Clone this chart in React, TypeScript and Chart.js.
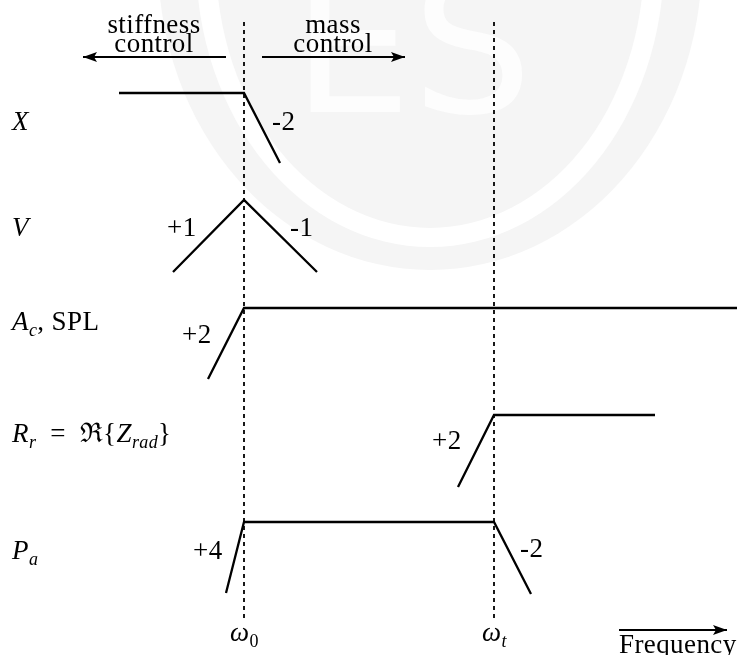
import React, { useEffect, useRef } from "react";
import { Chart, registerables } from "chart.js";

Chart.register(...registerables);

// Frequency axis: decades relative to the resonance ω0 (ω0 = 0, ωt = 2).
// Level axis: log magnitude (decades), each response drawn at its own offset.
const FREQ_MIN = -1.952;
const FREQ_MAX = 3.944;
const LEVEL_MIN = 0;
const LEVEL_MAX = 5.24;

const OMEGA_0 = 0;
const OMEGA_T = 2;
const MARKER_LEVELS = [0.296, 5.08];

const X_FREQ = [-1.0, 0, 0.288];
const X_LEVEL = [4.496, 4.496, 3.936];
const V_FREQ = [-0.568, 0, 0.584];
const V_LEVEL = [3.064, 3.64, 3.064];
const AC_FREQ = [-0.288, 0, 3.944];
const AC_LEVEL = [2.208, 2.776, 2.776];
const RR_FREQ = [1.712, 2, 3.288];
const RR_LEVEL = [1.344, 1.92, 1.92];
const PA_FREQ = [-0.144, 0, 2, 2.296];
const PA_LEVEL = [0.496, 1.064, 1.064, 0.488];

// region arrows (stiffness / mass control) and frequency arrow
const STIFF_ARROW_FREQ = [-0.144, -1.288];
const MASS_ARROW_FREQ = [0.144, 1.288];
const REGION_ARROW_LEVEL = 4.784;
const FREQ_ARROW_FREQ = [3.0, 3.864];
const FREQ_ARROW_LEVEL = 0.2;

const SLOPE_LABELS = ["-2", "+1", "-1", "+2", "+2", "+4", "-2"];
const TICK_LABELS = ["0", "t"];

type Seg = { t: string; i?: boolean; sub?: boolean };
type Ann = { x: number; y: number; align?: "left" | "center"; segs: Seg[] };

const ANNOTATIONS: Ann[] = [
  { x: -0.72, y: 4.976, align: "center", segs: [{ t: "stiffness" }] },
  { x: -0.72, y: 4.824, align: "center", segs: [{ t: "control" }] },
  { x: 0.712, y: 4.976, align: "center", segs: [{ t: "mass" }] },
  { x: 0.712, y: 4.824, align: "center", segs: [{ t: "control" }] },
  { x: -1.856, y: 4.2, segs: [{ t: "X", i: true }] },
  { x: -1.856, y: 3.352, segs: [{ t: "V", i: true }] },
  { x: -1.856, y: 2.6, segs: [{ t: "A", i: true }, { t: "c", i: true, sub: true }, { t: ", SPL" }] },
  {
    x: -1.856,
    y: 1.704,
    segs: [
      { t: "R", i: true },
      { t: "r", i: true, sub: true },
      { t: "\u2002=\u2002\u211C{" },
      { t: "Z", i: true },
      { t: "rad", i: true, sub: true },
      { t: "}" },
    ],
  },
  { x: -1.856, y: 0.768, segs: [{ t: "P", i: true }, { t: "a", i: true, sub: true }] },
  { x: 0.224, y: 4.2, segs: [{ t: SLOPE_LABELS[0] }] },
  { x: -0.616, y: 3.352, segs: [{ t: SLOPE_LABELS[1] }] },
  { x: 0.368, y: 3.352, segs: [{ t: SLOPE_LABELS[2] }] },
  { x: -0.496, y: 2.496, segs: [{ t: SLOPE_LABELS[3] }] },
  { x: 1.504, y: 1.648, segs: [{ t: SLOPE_LABELS[4] }] },
  { x: -0.408, y: 0.768, segs: [{ t: SLOPE_LABELS[5] }] },
  { x: 2.208, y: 0.784, segs: [{ t: SLOPE_LABELS[6] }] },
  { x: OMEGA_0 - 0.112, y: 0.112, segs: [{ t: "\u03C9", i: true }, { t: TICK_LABELS[0], sub: true }] },
  { x: OMEGA_T - 0.096, y: 0.112, segs: [{ t: "\u03C9", i: true }, { t: TICK_LABELS[1], i: true, sub: true }] },
  { x: 3.0, y: 0.016, segs: [{ t: "Frequency" }] },
];

const FONT_FAMILY = "'Liberation Serif', 'DejaVu Serif', serif";
const MAIN_SIZE = 27;
const SUB_SIZE = 18;

function pts(xs: number[], ys: number[]) {
  return xs.map((x, k) => ({ x, y: ys[k] }));
}

function fontFor(s: Seg) {
  return `${s.i ? "italic " : ""}${s.sub ? SUB_SIZE : MAIN_SIZE}px ${FONT_FAMILY}`;
}

function drawRich(ctx: CanvasRenderingContext2D, segs: Seg[], x: number, y: number, align: string) {
  ctx.save();
  (ctx as any).letterSpacing = "0.4px";
  ctx.textBaseline = "alphabetic";
  ctx.textAlign = "left";
  let total = 0;
  for (const s of segs) {
    ctx.font = fontFor(s);
    total += ctx.measureText(s.t).width;
  }
  let cx = align === "center" ? x - total / 2 : x;
  for (const s of segs) {
    ctx.font = fontFor(s);
    ctx.fillStyle = "#000";
    ctx.fillText(s.t, cx, s.sub ? y + 6 : y);
    cx += ctx.measureText(s.t).width;
  }
  ctx.restore();
}

function arrowHead(ctx: CanvasRenderingContext2D, x: number, y: number, dir: number) {
  const L = 14;
  const W = 5;
  ctx.save();
  ctx.fillStyle = "#000";
  ctx.beginPath();
  ctx.moveTo(x, y);
  ctx.lineTo(x - dir * L, y - W);
  ctx.lineTo(x - dir * (L - 3), y);
  ctx.lineTo(x - dir * L, y + W);
  ctx.closePath();
  ctx.fill();
  ctx.restore();
}

const decorPlugin = {
  id: "decor",
  beforeDraw(chart: any) {
    const ctx: CanvasRenderingContext2D = chart.ctx;
    const { width, height } = chart;
    ctx.save();
    ctx.fillStyle = "#ffffff";
    ctx.fillRect(0, 0, width, height);
    // faint background watermark
    const cx = 430;
    const cy = -40;
    ctx.fillStyle = "#f5f5f5";
    ctx.beginPath();
    ctx.ellipse(cx, cy, 272, 310, 0, 0, Math.PI * 2);
    ctx.fill();
    ctx.fillStyle = "#ffffff";
    ctx.beginPath();
    ctx.ellipse(cx, cy, 234, 287, 0, 0, Math.PI * 2);
    ctx.fill();
    ctx.fillStyle = "#f5f5f5";
    ctx.beginPath();
    ctx.ellipse(cx, cy, 214, 268, 0, 0, Math.PI * 2);
    ctx.fill();
    ctx.font = `190px 'DejaVu Sans', sans-serif`;
    ctx.textBaseline = "alphabetic";
    ctx.fillStyle = "#fdfdfd";
    ctx.fillText("ES", 292, 112);
    ctx.restore();
  },
  afterDatasetsDraw(chart: any) {
    const ctx: CanvasRenderingContext2D = chart.ctx;
    const xs = chart.scales.x;
    const ys = chart.scales.y;
    const px = (v: number) => xs.getPixelForValue(v);
    const py = (v: number) => ys.getPixelForValue(v);
    arrowHead(ctx, px(STIFF_ARROW_FREQ[1]), py(REGION_ARROW_LEVEL), -1);
    arrowHead(ctx, px(MASS_ARROW_FREQ[1]), py(REGION_ARROW_LEVEL), 1);
    arrowHead(ctx, px(FREQ_ARROW_FREQ[1]), py(FREQ_ARROW_LEVEL), 1);
    for (const a of ANNOTATIONS) {
      drawRich(ctx, a.segs, px(a.x), py(a.y), a.align || "left");
    }
  },
};

export default function App() {
  const ref = useRef<HTMLCanvasElement | null>(null);

  useEffect(() => {
    if (!ref.current) return;
    const solid = { borderColor: "#000", borderWidth: 2.3, pointRadius: 0, fill: false, clip: false as any, tension: 0 };
    const dashed = { ...solid, borderWidth: 1.8, borderDash: [4, 4] };
    const arrow = { ...solid, borderWidth: 2 };
    const chart = new Chart(ref.current, {
      type: "scatter",
      data: {
        datasets: [
          { ...dashed, showLine: true, data: pts([OMEGA_0, OMEGA_0], MARKER_LEVELS) },
          { ...dashed, showLine: true, data: pts([OMEGA_T, OMEGA_T], MARKER_LEVELS) },
          { ...solid, showLine: true, data: pts(X_FREQ, X_LEVEL) },
          { ...solid, showLine: true, data: pts(V_FREQ, V_LEVEL) },
          { ...solid, showLine: true, data: pts(AC_FREQ, AC_LEVEL) },
          { ...solid, showLine: true, data: pts(RR_FREQ, RR_LEVEL) },
          { ...solid, showLine: true, data: pts(PA_FREQ, PA_LEVEL) },
          { ...arrow, showLine: true, data: pts(STIFF_ARROW_FREQ, [REGION_ARROW_LEVEL, REGION_ARROW_LEVEL]) },
          { ...arrow, showLine: true, data: pts(MASS_ARROW_FREQ, [REGION_ARROW_LEVEL, REGION_ARROW_LEVEL]) },
          { ...arrow, showLine: true, data: pts(FREQ_ARROW_FREQ, [FREQ_ARROW_LEVEL, FREQ_ARROW_LEVEL]) },
        ] as any,
      },
      options: {
        responsive: false,
        maintainAspectRatio: false,
        animation: false,
        events: [],
        layout: { padding: 0 },
        plugins: { legend: { display: false }, tooltip: { enabled: false } },
        scales: {
          x: { type: "linear", display: false, min: FREQ_MIN, max: FREQ_MAX },
          y: { type: "linear", display: false, min: LEVEL_MIN, max: LEVEL_MAX },
        },
      },
      plugins: [decorPlugin],
    });
    return () => chart.destroy();
  }, []);

  return (
    <div style={{ position: "fixed", left: 0, top: 0, width: 737, height: 655, background: "#fff" }}>
      <canvas ref={ref} width={737} height={655} style={{ display: "block", width: 737, height: 655 }} />
    </div>
  );
}
